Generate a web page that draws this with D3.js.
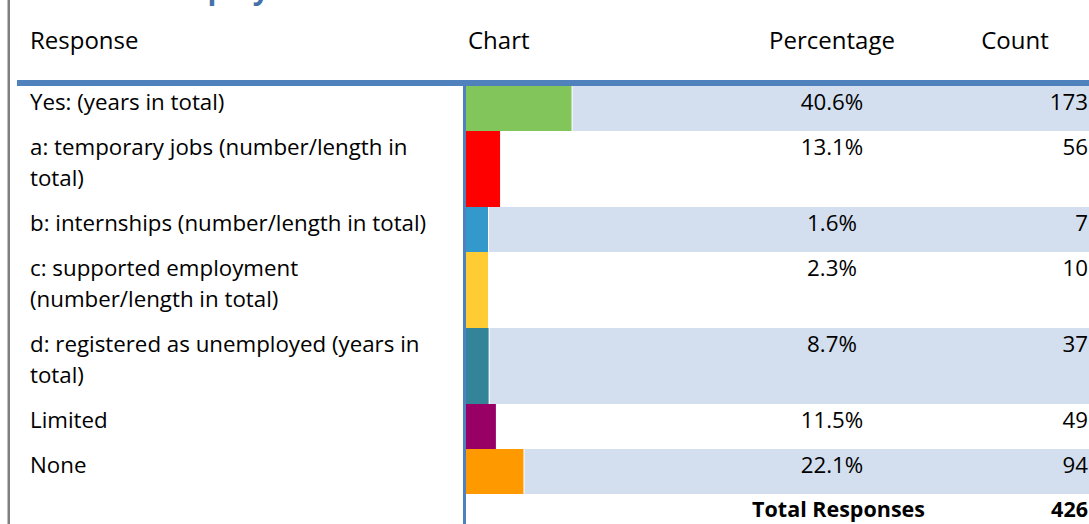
<!DOCTYPE html>
<html>
<head>
<meta charset="utf-8">
<script src="https://cdn.jsdelivr.net/npm/d3@7"></script>
<style>
  html, body { margin: 0; padding: 0; background: #fff; }
  svg { display: block; font-family: "Open Sans", sans-serif; }
</style>
</head>
<body>
<div id="chart"></div>
<script>
// Données du tableau
const title = "Previous Employment";
const headers = ["Response", "Chart", "Percentage", "Count"];
const responses = [
  "Yes: (years in total)",
  "a: temporary jobs (number/length in\ntotal)",
  "b: internships (number/length in total)",
  "c: supported employment\n(number/length in total)",
  "d: registered as unemployed (years in\ntotal)",
  "Limited",
  "None"
];
const percentages = [40.6, 13.1, 1.6, 2.3, 8.7, 11.5, 22.1];
const counts = [173, 56, 7, 10, 37, 49, 94];
const totalLabel = "Total Responses";
const totalCount = 426;
const barColors = ["#82C55B", "#FF0000", "#3399CC", "#FFCC33", "#338399", "#990066", "#FF9900"];

const width = 1089, height = 524;
const svg = d3.select("#chart").append("svg")
  .attr("width", width)
  .attr("height", height);

// Géométrie
const labelX = 30, chartX = 466, pctX = 832, countX = 1088;
const headTop = 86, lineH = 31, rowPad = 14, baseOff = 24;
const bodySize = 22.3, headSize = 24;

const rows = responses.map((r, i) => {
  const lines = r.split("\n");
  return { label: lines, pct: percentages[i], count: counts[i], color: barColors[i], h: rowPad + lines.length * lineH };
});
let yAcc = headTop;
rows.forEach(d => { d.y = yAcc; yAcc += d.h; });
const totalY = yAcc;

const x = d3.scaleLinear().domain([0, 100]).range([0, 260]);
const barW = v => Math.max(22, x(v));

// Titre (coupé en haut)
svg.append("text")
  .attr("x", 30).attr("y", -1)
  .attr("font-size", 29).attr("font-weight", "bold")
  .attr("fill", "#4472A8")
  .text(title);

// Bordure gauche
svg.append("rect").attr("x", 7.5).attr("y", 0).attr("width", 2.5).attr("height", height).attr("fill", "#7F7F7F");

// En-têtes
const hy = 49;
svg.append("text").attr("x", labelX).attr("y", hy).attr("font-size", headSize).text(headers[0]);
svg.append("text").attr("x", 468).attr("y", hy).attr("font-size", headSize).text(headers[1]);
svg.append("text").attr("x", pctX).attr("y", hy).attr("font-size", headSize).attr("text-anchor", "middle").text(headers[2]);
svg.append("text").attr("x", 1015).attr("y", hy).attr("font-size", headSize).attr("text-anchor", "middle").text(headers[3]);

// Lignes
const g = svg.append("g");
const row = g.selectAll("g.row").data(rows).enter().append("g").attr("class", "row");

row.filter((d, i) => i % 2 === 0).append("rect")
  .attr("x", d => chartX + barW(d.pct) + 1)
  .attr("y", d => d.y)
  .attr("width", d => width - (chartX + barW(d.pct) + 1))
  .attr("height", d => d.h)
  .attr("fill", "#D3DFEE");

row.append("rect")
  .attr("x", chartX)
  .attr("y", d => d.y)
  .attr("width", d => barW(d.pct))
  .attr("height", d => d.h)
  .attr("fill", d => d.color);

row.append("text")
  .attr("x", labelX)
  .attr("y", d => d.y + baseOff)
  .attr("font-size", bodySize)
  .selectAll("tspan").data(d => d.label).enter().append("tspan")
  .attr("x", labelX)
  .attr("dy", (l, j) => j === 0 ? 0 : lineH)
  .text(l => l);

row.append("text")
  .attr("x", pctX).attr("y", d => d.y + baseOff)
  .attr("font-size", bodySize).attr("text-anchor", "middle")
  .text(d => d3.format(".1f")(d.pct) + "%");

row.append("text")
  .attr("x", countX).attr("y", d => d.y + baseOff)
  .attr("font-size", bodySize).attr("text-anchor", "end")
  .text(d => d.count);

// Total
svg.append("text").attr("x", 925).attr("y", totalY + baseOff - 1)
  .attr("font-size", 21.5).attr("font-weight", "bold").attr("text-anchor", "end").text(totalLabel);
svg.append("text").attr("x", countX).attr("y", totalY + baseOff - 1)
  .attr("font-size", 21.5).attr("font-weight", "bold").attr("text-anchor", "end").text(totalCount);

// Ligne d'en-tête et axe du graphique
svg.append("rect").attr("x", 17).attr("y", 80).attr("width", width - 17).attr("height", 6).attr("fill", "#4F81BD");
svg.append("rect").attr("x", 463).attr("y", 86).attr("width", 3).attr("height", height - 86).attr("fill", "#4F81BD");
</script>
</body>
</html>
